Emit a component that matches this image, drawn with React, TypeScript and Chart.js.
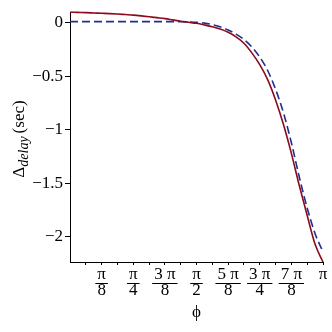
import React, { useEffect, useRef } from "react";
import { Chart, registerables } from "chart.js";

Chart.register(...registerables);

// x grid: phi = k * pi / 32
const phiSteps = [0,1,2,3,4,5,6,7,8,9,10,11,12,13,14,15,16,17,18,19,20,21,22,23,24,25,26,27,28,29,30,31,32];
const redSeries = [0.100,0.098,0.096,0.093,0.090,0.087,0.083,0.078,0.073,0.066,0.058,0.049,0.040,0.028,0.016,0.006,-0.004,-0.019,-0.036,-0.058,-0.088,-0.130,-0.190,-0.280,-0.390,-0.530,-0.720,-0.950,-1.220,-1.520,-1.800,-2.070,-2.235];
const blueSeries = [0.012,0.012,0.012,0.012,0.012,0.012,0.012,0.012,0.012,0.012,0.012,0.012,0.012,0.012,0.011,0.009,0.005,-0.002,-0.016,-0.036,-0.066,-0.105,-0.155,-0.225,-0.320,-0.445,-0.620,-0.840,-1.120,-1.440,-1.730,-1.970,-2.140];

// x ticks at k * pi / 16
const xTickSteps = [1,2,3,4,5,6,7,8,9,10,11,12,13,14,15,16];
const xTickLabels: (string | string[])[] = ["", ["π","8"], "", ["π","4"], "", ["3 π","8"], "", ["π","2"], "", ["5 π","8"], "", ["3 π","4"], "", ["7 π","8"], "", ["π",""]];
const yTickValues = [0, -0.5, -1, -1.5, -2];
const yTickLabels = ["0", "−0.5", "−1", "−1.5", "−2"];

const SERIF = "'Liberation Serif', 'DejaVu Serif', serif";

export default function App() {
  const ref = useRef<HTMLCanvasElement | null>(null);
  useEffect(() => {
    const canvas = ref.current;
    if (!canvas) return;
    const fracPlugin = {
      id: "fracBars",
      afterDraw(chart: any) {
        const ctx = chart.ctx;
        const xs = chart.scales.x;
        ctx.save();
        ctx.strokeStyle = "#000";
        ctx.lineWidth = 1;
        ctx.font = "17px " + SERIF;
        xTickSteps.forEach((k, i) => {
          const lab = xTickLabels[i];
          if (Array.isArray(lab) && lab[1] !== "") {
            const px = xs.getPixelForValue((k * Math.PI) / 16);
            const w = Math.max(ctx.measureText(lab[0]).width, ctx.measureText(lab[1]).width) + 4;
            const y = Math.round(xs.top + 21) + 0.5;
            ctx.beginPath();
            ctx.moveTo(px - w / 2, y);
            ctx.lineTo(px + w / 2, y);
            ctx.stroke();
          }
        });
        // y axis title: Δ_delay (sec)
        ctx.translate(24, 139);
        ctx.rotate(-Math.PI / 2);
        ctx.fillStyle = "#000";
        ctx.textBaseline = "alphabetic";
        ctx.textAlign = "left";
        const fMain = "17px " + SERIF;
        const fSub = "italic 14px " + SERIF;
        ctx.font = fMain;
        const wD = ctx.measureText("Δ").width;
        const wS = ctx.measureText("(sec)").width;
        ctx.font = fSub;
        const wSub = ctx.measureText("delay").width;
        const gap = 3;
        const total = wD + wSub + gap + wS;
        let x0 = -total / 2;
        ctx.font = fMain;
        ctx.fillText("Δ", x0, 0);
        x0 += wD;
        ctx.font = fSub;
        ctx.fillText("delay", x0, 3.5);
        x0 += wSub + gap;
        ctx.font = fMain;
        ctx.fillText("(sec)", x0, 0);
        ctx.restore();
      },
    };
    const chart = new Chart(canvas, {
      type: "line",
      data: {
        datasets: [
          {
            data: phiSteps.map((k, i) => ({ x: (k * Math.PI) / 32, y: redSeries[i] })),
            borderColor: "#8B0A1E",
            borderWidth: 1.6,
            pointRadius: 0,
            cubicInterpolationMode: "monotone",
            clip: false as any,
          },
          {
            data: phiSteps.map((k, i) => ({ x: (k * Math.PI) / 32, y: blueSeries[i] })),
            borderColor: "#1F2F8F",
            borderWidth: 1.6,
            borderDash: [8, 4],
            pointRadius: 0,
            cubicInterpolationMode: "monotone",
            clip: false as any,
          },
        ],
      },
      options: {
        animation: false,
        responsive: false,
        devicePixelRatio: 1,
        layout: { padding: { top: 6, right: 9, left: 0, bottom: 0 } },
        plugins: { legend: { display: false }, tooltip: { enabled: false } },
        scales: {
          x: {
            type: "linear",
            min: 0,
            max: Math.PI,
            afterFit: (s: any) => { s.height = 70; },
            afterBuildTicks: (s: any) => { s.ticks = xTickSteps.map((k) => ({ value: (k * Math.PI) / 16 })); },
            grid: { display: true, drawOnChartArea: false, drawTicks: true, tickLength: 3, color: "#000" },
            border: { display: true, color: "#000", width: 1 },
            ticks: {
              autoSkip: false,
              maxRotation: 0,
              padding: 2,
              color: "#000",
              font: { family: SERIF, size: 17, lineHeight: "16px" },
              callback: (_v: any, i: number) => xTickLabels[i],
            },
            title: { display: true, text: "ϕ", color: "#000", font: { family: SERIF, size: 17, lineHeight: 1 }, padding: { top: 0, bottom: 11 } },
          },
          y: {
            type: "linear",
            min: -2.235,
            max: 0.1,
            afterFit: (s: any) => { s.width = 70; },
            afterBuildTicks: (s: any) => { s.ticks = yTickValues.map((v) => ({ value: v })); },
            grid: { display: true, drawOnChartArea: false, drawTicks: true, tickLength: 5, color: "#000" },
            border: { display: true, color: "#000", width: 1 },
            ticks: {
              padding: 2,
              color: "#000",
              font: { family: SERIF, size: 17 },
              callback: (_v: any, i: number) => yTickLabels[i],
            },
          },
        },
      },
      plugins: [fracPlugin],
    } as any);
    return () => chart.destroy();
  }, []);
  return (
    <div style={{ position: "fixed", left: 0, top: 0, width: 332, height: 332, background: "#fff" }}>
      <canvas ref={ref} width={332} height={332} style={{ width: 332, height: 332, display: "block" }} />
    </div>
  );
}
